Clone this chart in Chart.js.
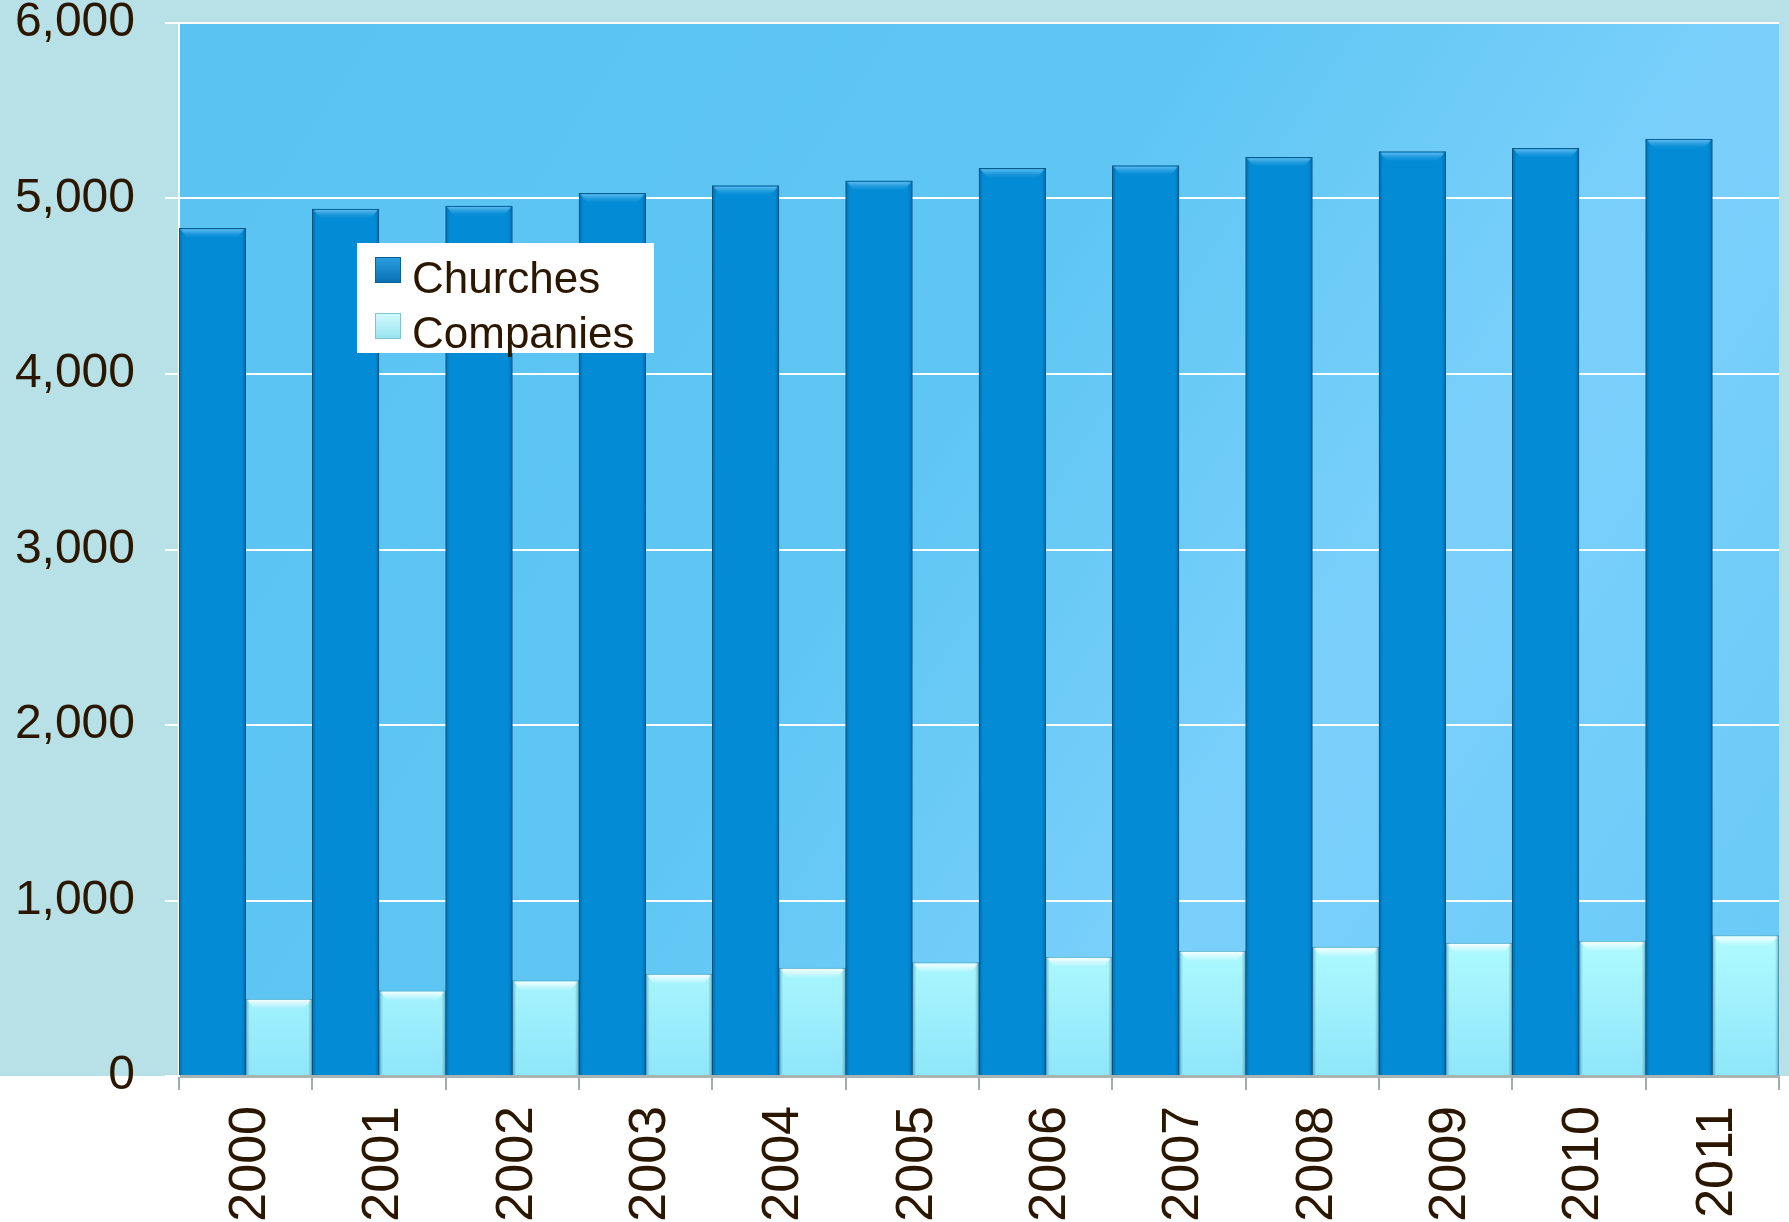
<!DOCTYPE html>
<html>
<head>
<meta charset="utf-8">
<title>Churches and Companies</title>
<script src="https://cdn.jsdelivr.net/npm/chart.js@4/dist/chart.umd.min.js"></script>
<style>
  html, body { margin: 0; padding: 0; background: #ffffff; }
  #wrap { width: 1789px; height: 1222px; position: relative; }
</style>
</head>
<body>
<div id="wrap"><canvas id="chart"></canvas></div>
<script>
// === Dados ===
const years = ["2000","2001","2002","2003","2004","2005","2006","2007","2008","2009","2010","2011"];
const churches = [4830, 4940, 4957, 5030, 5073, 5100, 5172, 5187, 5235, 5267, 5286, 5339];
const companies = [439, 486, 543, 581, 615, 646, 678, 712, 735, 758, 769, 800];
const seriesNames = ["Churches", "Companies"];
const yMax = 6000;
const yStep = 1000;

const textColor = '#2b1700';
const churchColor = '#038bd5';
const companyTop = '#b2fcff';
const companyBottom = '#8ee6fa';

// fundo: teal em cima, branco embaixo, area de plotagem azul
const backgroundPlugin = {
  id: 'bg',
  beforeDraw(chart) {
    const { ctx, chartArea, width, height } = chart;
    ctx.save();
    ctx.fillStyle = '#ffffff';
    ctx.fillRect(0, 0, width, height);
    ctx.fillStyle = '#b8e0e7';
    ctx.fillRect(0, 0, width, chartArea.bottom);
    const g = ctx.createLinearGradient(chartArea.left, chartArea.top, chartArea.right, chartArea.bottom);
    g.addColorStop(0, '#5ac3f2');
    g.addColorStop(0.45, '#5fc6f3');
    g.addColorStop(0.7, '#7bd0fb');
    g.addColorStop(1, '#68c9f6');
    ctx.fillStyle = g;
    ctx.fillRect(chartArea.left, chartArea.top, chartArea.right - chartArea.left, chartArea.bottom - chartArea.top);
    ctx.restore();
  }
};

// brilho no topo das barras (efeito bisel)
const bevelPlugin = {
  id: 'bevel',
  afterDatasetsDraw(chart) {
    const ctx = chart.ctx;
    ctx.save();
    chart.data.datasets.forEach((ds, i) => {
      chart.getDatasetMeta(i).data.forEach(bar => {
        const left = bar.x - bar.width / 2;
        const w = bar.width;
        const top = bar.y;
        const g = ctx.createLinearGradient(0, top, 0, top + 10);
        if (i === 0) {
          g.addColorStop(0, 'rgba(120,200,245,0.9)');
          g.addColorStop(1, 'rgba(40,160,225,0)');
        } else {
          g.addColorStop(0, 'rgba(255,255,255,0.95)');
          g.addColorStop(1, 'rgba(255,255,255,0)');
        }
        ctx.fillStyle = g;
        ctx.beginPath();
        ctx.moveTo(left + 1, top + 1);
        ctx.lineTo(left + w - 1, top + 1);
        ctx.lineTo(left + w - 9, top + 10);
        ctx.lineTo(left + 9, top + 10);
        ctx.closePath();
        ctx.fill();
        // sombra nas laterais
        const sg = ctx.createLinearGradient(left, 0, left + w, 0);
        sg.addColorStop(0, 'rgba(0,50,90,0.35)');
        sg.addColorStop(0.06, 'rgba(0,50,90,0)');
        sg.addColorStop(0.94, 'rgba(0,50,90,0)');
        sg.addColorStop(1, 'rgba(0,50,90,0.35)');
        ctx.fillStyle = sg;
        ctx.fillRect(left, top, w, bar.base - top);
      });
    });
    ctx.restore();
  }
};

// legenda dentro do grafico
const boxLegendPlugin = {
  id: 'boxLegend',
  afterDraw(chart) {
    const ctx = chart.ctx;
    const bx = 357, by = 243, bw = 297, bh = 110;
    ctx.save();
    ctx.fillStyle = '#ffffff';
    ctx.fillRect(bx, by, bw, bh);
    ctx.font = '44px "Liberation Sans", Arial, sans-serif';
    ctx.textBaseline = 'alphabetic';
    chart.data.datasets.forEach((ds, i) => {
      const my = by + 14 + i * 56;
      const mg = ctx.createLinearGradient(0, my, 0, my + 26);
      if (i === 0) { mg.addColorStop(0, '#2a9ee0'); mg.addColorStop(1, '#0870b4'); }
      else { mg.addColorStop(0, '#d4fbff'); mg.addColorStop(1, '#95e2ee'); }
      ctx.fillStyle = mg;
      ctx.fillRect(bx + 18, my, 26, 26);
      ctx.strokeStyle = i === 0 ? '#0b5f92' : '#7fc4d0';
      ctx.lineWidth = 1;
      ctx.strokeRect(bx + 18.5, my + 0.5, 25, 25);
      ctx.fillStyle = textColor;
      ctx.fillText(ds.label, bx + 55, by + 50 + i * 55);
    });
    ctx.restore();
  }
};

const ctx = document.getElementById('chart').getContext('2d');
new Chart(ctx, {
  type: 'bar',
  data: {
    labels: years,
    datasets: [
      {
        label: seriesNames[0],
        data: churches,
        backgroundColor: churchColor,
        borderColor: '#0a5c8c',
        borderWidth: 1,
        borderSkipped: 'bottom',
        barPercentage: 1,
        categoryPercentage: 1
      },
      {
        label: seriesNames[1],
        data: companies,
        backgroundColor: (c) => {
          const area = c.chart.chartArea;
          if (!area) return companyBottom;
          const g = c.chart.ctx.createLinearGradient(0, area.bottom - 150, 0, area.bottom);
          g.addColorStop(0, companyTop);
          g.addColorStop(1, companyBottom);
          return g;
        },
        borderColor: '#5aaec8',
        borderWidth: 1,
        borderSkipped: 'bottom',
        barPercentage: 1,
        categoryPercentage: 1
      }
    ]
  },
  options: {
    responsive: true,
    maintainAspectRatio: false,
    animation: false,
    layout: { padding: { top: 23, right: 10, left: 0, bottom: 0 } },
    plugins: {
      legend: { display: false },
      tooltip: { enabled: false }
    },
    scales: {
      x: {
        offset: true,
        grid: {
          offset: true,
          drawOnChartArea: false,
          drawTicks: true,
          tickLength: 14,
          tickColor: '#a3adad',
          lineWidth: 2
        },
        border: { display: true, color: '#a8b4b4', width: 3 },
        ticks: {
          color: textColor,
          font: { family: '"Liberation Sans", Arial, sans-serif', size: 52 },
          minRotation: 90,
          maxRotation: 90,
          padding: 16,
          labelOffset: 5,
          autoSkip: false
        },
        afterFit(scale) {
          scale.height = 146;
          scale.paddingLeft = 0;
          scale.paddingRight = 0;
        }
      },
      y: {
        min: 0,
        max: yMax,
        grid: {
          color: '#ffffff',
          lineWidth: 2,
          tickLength: 14,
          tickColor: '#ffffff'
        },
        border: { display: true, color: '#ffffff', width: 2 },
        ticks: {
          stepSize: yStep,
          color: textColor,
          padding: 30,
          font: { family: '"Liberation Sans", Arial, sans-serif', size: 48 },
          callback: (v) => v.toLocaleString('en-US')
        },
        afterFit(scale) {
          scale.width = 179;
          scale.paddingTop = 0;
          scale.paddingBottom = 0;
        }
      }
    }
  },
  plugins: [backgroundPlugin, bevelPlugin, boxLegendPlugin]
});
</script>
</body>
</html>
